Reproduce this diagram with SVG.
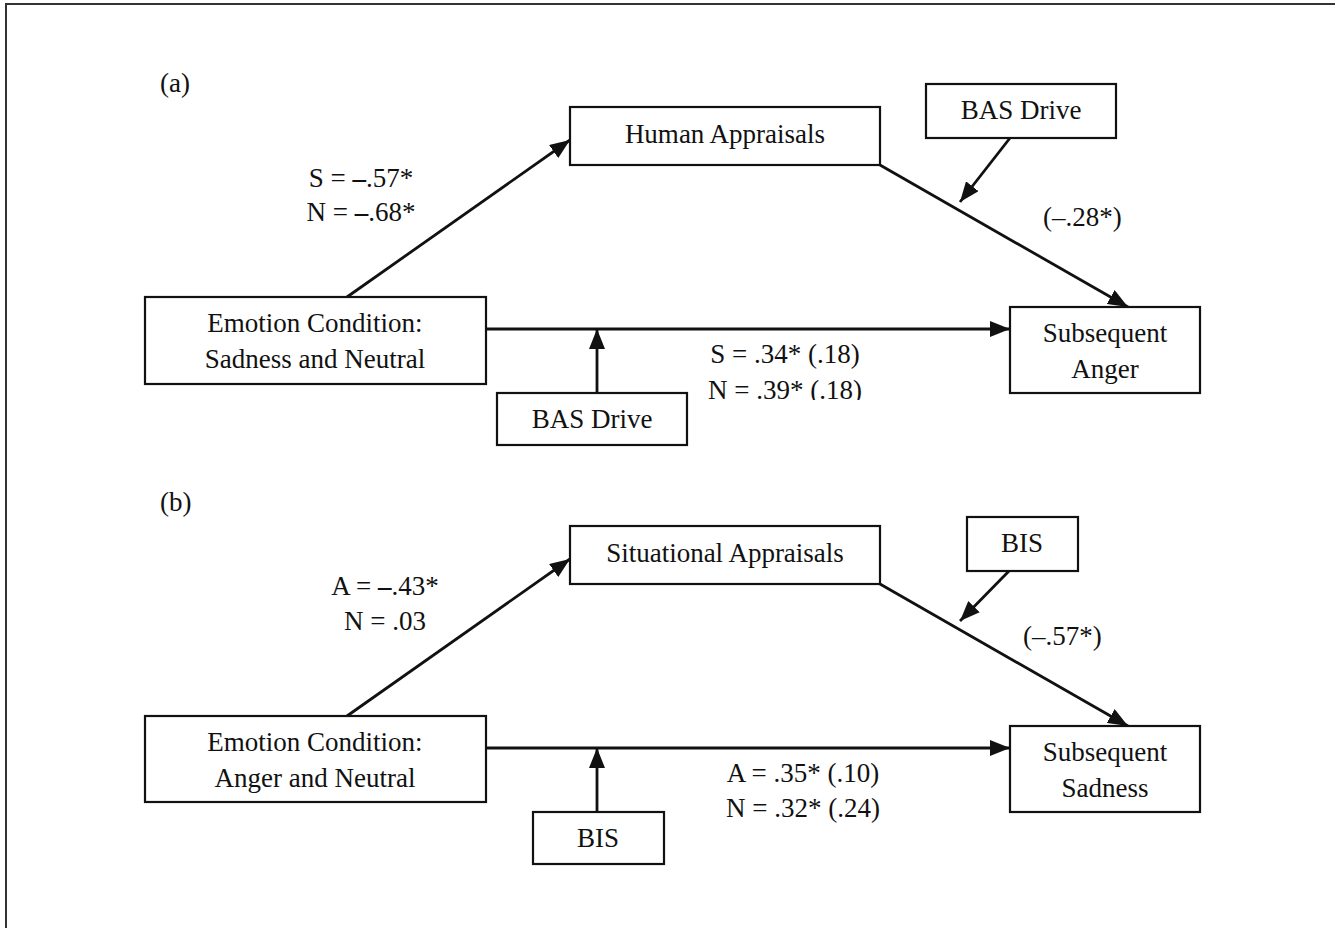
<svg xmlns="http://www.w3.org/2000/svg" width="1335" height="928" viewBox="0 0 1335 928">
<style>
text{font-family:"Liberation Serif","Times New Roman",serif;font-size:27px;fill:#111}
.c{text-anchor:middle}
.box{fill:#fff;stroke:#111;stroke-width:2.2}
.ln{stroke:#111;stroke-width:2.8;fill:none}
.b{font-weight:bold}
</style>
<defs>
<marker id="a" viewBox="0 0 20 16" refX="20" refY="8" markerWidth="20" markerHeight="16" markerUnits="userSpaceOnUse" orient="auto">
<path d="M0,0 L20,8 L0,16 z" fill="#111"/>
</marker>
<clipPath id="clipN"><rect x="600" y="300" width="400" height="100"/></clipPath>
</defs>
<rect width="1335" height="928" fill="#fff"/>
<path d="M6,928 V4 H1335" stroke="#333" stroke-width="2" fill="none"/>

<g id="connectors">
<line class="ln" x1="347" y1="297" x2="570" y2="140" marker-end="url(#a)"/>
<line class="ln" x1="880" y1="165" x2="1128" y2="307" marker-end="url(#a)"/>
<line class="ln" x1="1010" y1="138" x2="960" y2="202" marker-end="url(#a)"/>
<line class="ln" x1="486" y1="329" x2="1010" y2="329" marker-end="url(#a)"/>
<line class="ln" x1="597" y1="393" x2="597" y2="329" marker-end="url(#a)"/>

<line class="ln" x1="347" y1="716" x2="570" y2="559" marker-end="url(#a)"/>
<line class="ln" x1="880" y1="584" x2="1128" y2="726" marker-end="url(#a)"/>
<line class="ln" x1="1009" y1="571" x2="960" y2="621" marker-end="url(#a)"/>
<line class="ln" x1="486" y1="748" x2="1010" y2="748" marker-end="url(#a)"/>
<line class="ln" x1="597" y1="812" x2="597" y2="748" marker-end="url(#a)"/>
</g>

<g id="labels">
<text x="160" y="92">(a)</text>
<text class="c" x="361" y="187">S = <tspan class="b">–</tspan>.57*</text>
<text class="c" x="361" y="221">N = <tspan class="b">–</tspan>.68*</text>
<text x="1043" y="226">(–.28*)</text>
<text class="c" x="785" y="363">S = .34* (.18)</text>
<text class="c" x="785" y="399" clip-path="url(#clipN)">N = .39* (.18)</text>

<text x="160" y="511">(b)</text>
<text class="c" x="385" y="595">A = <tspan class="b">–</tspan>.43*</text>
<text class="c" x="385" y="630">N = .03</text>
<text x="1023" y="645">(–.57*)</text>
<text class="c" x="803" y="782">A = .35* (.10)</text>
<text class="c" x="803" y="817">N = .32* (.24)</text>
</g>

<g id="human-appraisals"><rect class="box" x="570" y="107" width="310" height="58"/><text class="c" x="725" y="143">Human Appraisals</text></g>
<g id="bas-drive-top"><rect class="box" x="926" y="84" width="190" height="54"/><text class="c" x="1021" y="119">BAS Drive</text></g>
<g id="emotion-a"><rect class="box" x="145" y="297" width="341" height="87"/><text class="c" x="315" y="332">Emotion Condition:</text><text class="c" x="315" y="368">Sadness and Neutral</text></g>
<g id="subsequent-anger"><rect class="box" x="1010" y="307" width="190" height="86"/><text class="c" x="1105" y="342">Subsequent</text><text class="c" x="1105" y="378">Anger</text></g>
<g id="bas-drive-bottom"><rect class="box" x="497" y="393" width="190" height="52"/><text class="c" x="592" y="428">BAS Drive</text></g>

<g id="situational-appraisals"><rect class="box" x="570" y="526" width="310" height="58"/><text class="c" x="725" y="562">Situational Appraisals</text></g>
<g id="bis-top"><rect class="box" x="967" y="517" width="111" height="54"/><text class="c" x="1022" y="552">BIS</text></g>
<g id="emotion-b"><rect class="box" x="145" y="716" width="341" height="86"/><text class="c" x="315" y="751">Emotion Condition:</text><text class="c" x="315" y="787">Anger and Neutral</text></g>
<g id="subsequent-sadness"><rect class="box" x="1010" y="726" width="190" height="86"/><text class="c" x="1105" y="761">Subsequent</text><text class="c" x="1105" y="797">Sadness</text></g>
<g id="bis-bottom"><rect class="box" x="533" y="812" width="131" height="52"/><text class="c" x="598" y="847">BIS</text></g>
</svg>
